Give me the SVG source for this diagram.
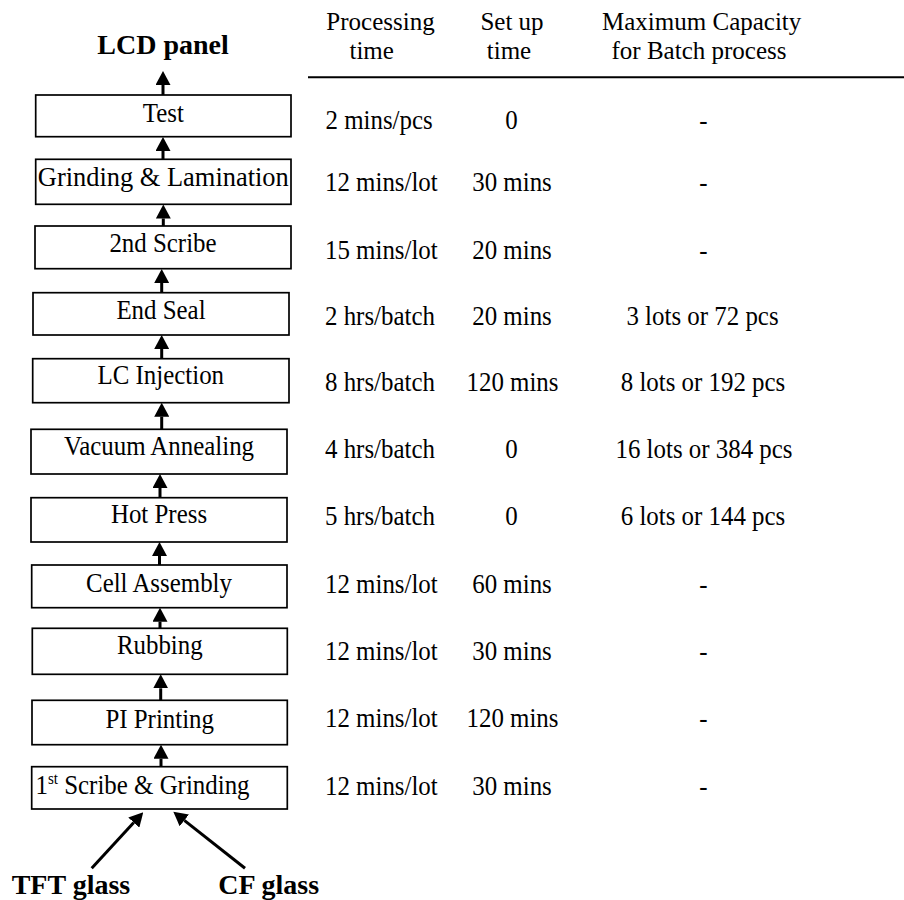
<svg xmlns="http://www.w3.org/2000/svg" width="904" height="900" viewBox="0 0 904 900">
<style>
text{font-family:"Liberation Serif","Times New Roman",serif;font-size:26.5px;fill:#000}
.h{font-size:25px}
.b{font-weight:bold;font-size:28px}
.c{text-anchor:middle}
.box{fill:#fff;stroke:#000;stroke-width:1.7}
.ar{stroke:#000;stroke-width:3;fill:none;marker-end:url(#ah)}
</style>
<defs>
<marker id="ah" markerUnits="userSpaceOnUse" markerWidth="14" markerHeight="15" refX="0" refY="7.5" orient="auto" viewBox="0 0 14 15">
<path d="M0,0 L14,7.5 L0,15 z" fill="#000"/>
</marker>
</defs>
<rect width="904" height="900" fill="#fff"/>
<g id="connectors">
<line class="ar" x1="163" y1="95" x2="163" y2="85"/>
<line class="ar" x1="163" y1="159.3" x2="163" y2="151"/>
<line class="ar" x1="163.3" y1="226" x2="163.3" y2="218.5"/>
<line class="ar" x1="161.7" y1="292.7" x2="161.7" y2="283"/>
<line class="ar" x1="161.7" y1="358.7" x2="161.7" y2="349"/>
<line class="ar" x1="161.7" y1="429.3" x2="161.7" y2="416.7"/>
<line class="ar" x1="160" y1="497.7" x2="160" y2="488"/>
<line class="ar" x1="159.5" y1="565" x2="159.5" y2="556"/>
<line class="ar" x1="160" y1="628.3" x2="160" y2="621.7"/>
<line class="ar" x1="160.7" y1="700.3" x2="160.7" y2="688.3"/>
<line class="ar" x1="161" y1="766.7" x2="161" y2="758.7"/>
<line class="ar" x1="91.7" y1="868.3" x2="133.8" y2="822.6"/>
<line class="ar" x1="245" y1="868.3" x2="184.3" y2="820.4"/>
</g>
<g id="lcd-panel"><text class="b c" x="163" y="54">LCD panel</text></g>
<g id="test"><rect class="box" x="35.7" y="95" width="255.3" height="41.7"/><text class="c" transform="translate(163.3,122) scale(0.94,1)">Test</text></g>
<g id="grinding-lamination"><rect class="box" x="35.7" y="159.3" width="255.3" height="45"/><text class="c" x="163.3" y="185.5" textLength="251" lengthAdjust="spacingAndGlyphs">Grinding &amp; Lamination</text></g>
<g id="second-scribe"><rect class="box" x="35" y="226" width="256" height="42.7"/><text class="c" transform="translate(163,252) scale(0.94,1)">2nd Scribe</text></g>
<g id="end-seal"><rect class="box" x="33" y="292.7" width="256" height="42.3"/><text class="c" transform="translate(161,318.5) scale(0.94,1)">End Seal</text></g>
<g id="lc-injection"><rect class="box" x="32.7" y="358.7" width="256.3" height="44"/><text class="c" transform="translate(160.8,384.3) scale(0.94,1)">LC Injection</text></g>
<g id="vacuum-annealing"><rect class="box" x="31" y="429.3" width="256" height="44.7"/><text class="c" transform="translate(159,455.3) scale(0.94,1)">Vacuum Annealing</text></g>
<g id="hot-press"><rect class="box" x="31" y="497.7" width="256" height="44.3"/><text class="c" transform="translate(159,523) scale(0.94,1)">Hot Press</text></g>
<g id="cell-assembly"><rect class="box" x="31.7" y="565" width="255.3" height="42.7"/><text class="c" transform="translate(159,592) scale(0.94,1)">Cell Assembly</text></g>
<g id="rubbing"><rect class="box" x="32.3" y="628.3" width="255" height="46"/><text class="c" transform="translate(159.8,653.6) scale(0.94,1)">Rubbing</text></g>
<g id="pi-printing"><rect class="box" x="32" y="700.3" width="255.3" height="44.4"/><text class="c" transform="translate(159.7,727.6) scale(0.94,1)">PI Printing</text></g>
<g id="first-scribe-grinding"><rect class="box" x="31.7" y="766.7" width="255.6" height="42.3"/><text transform="translate(35.5,794.3) scale(0.94,1)">1<tspan font-size="16" dy="-10">st</tspan><tspan dy="10"> Scribe &amp; Grinding</tspan></text></g>
<g id="tft-glass"><text class="b" x="11.7" y="894">TFT glass</text></g>
<g id="cf-glass"><text class="b" x="218.3" y="894">CF glass</text></g>
<g id="table">
<text class="c h" x="380.5" y="30.3">Processing</text>
<text class="c h" x="371.7" y="58.8">time</text>
<text class="c h" x="512" y="30.3">Set up</text>
<text class="c h" x="509" y="58.8">time</text>
<text class="c h" x="701.7" y="30.3">Maximum Capacity</text>
<text class="c h" x="699" y="58.8">for Batch process</text>
<line x1="308" y1="77.3" x2="904" y2="77.3" stroke="#000" stroke-width="2"/>
<g>
<text transform="translate(325.5,129.3) scale(0.94,1)">2 mins/pcs</text>
<text transform="translate(325,190.7) scale(0.94,1)">12 mins/lot</text>
<text transform="translate(325,259.3) scale(0.94,1)">15 mins/lot</text>
<text transform="translate(325,325) scale(0.94,1)">2 hrs/batch</text>
<text transform="translate(325,390.7) scale(0.94,1)">8 hrs/batch</text>
<text transform="translate(325,458.3) scale(0.94,1)">4 hrs/batch</text>
<text transform="translate(325,525) scale(0.94,1)">5 hrs/batch</text>
<text transform="translate(325,593.3) scale(0.94,1)">12 mins/lot</text>
<text transform="translate(325,660) scale(0.94,1)">12 mins/lot</text>
<text transform="translate(325,727.3) scale(0.94,1)">12 mins/lot</text>
<text transform="translate(325,795) scale(0.94,1)">12 mins/lot</text>
</g>
<g>
<text class="c" transform="translate(511.5,129.3) scale(0.94,1)">0</text>
<text class="c" transform="translate(512,190.7) scale(0.94,1)">30 mins</text>
<text class="c" transform="translate(512,259.3) scale(0.94,1)">20 mins</text>
<text class="c" transform="translate(512,325) scale(0.94,1)">20 mins</text>
<text class="c" transform="translate(512.5,390.7) scale(0.94,1)">120 mins</text>
<text class="c" transform="translate(511.5,458.3) scale(0.94,1)">0</text>
<text class="c" transform="translate(511.5,525) scale(0.94,1)">0</text>
<text class="c" transform="translate(512,593.3) scale(0.94,1)">60 mins</text>
<text class="c" transform="translate(512,660) scale(0.94,1)">30 mins</text>
<text class="c" transform="translate(512.5,727.3) scale(0.94,1)">120 mins</text>
<text class="c" transform="translate(512,795) scale(0.94,1)">30 mins</text>
</g>
<g>
<text class="c" transform="translate(703.3,129.3) scale(0.94,1)">-</text>
<text class="c" transform="translate(703.3,190.7) scale(0.94,1)">-</text>
<text class="c" transform="translate(703.3,259.3) scale(0.94,1)">-</text>
<text class="c" transform="translate(702.5,325) scale(0.94,1)">3 lots or 72 pcs</text>
<text class="c" transform="translate(703,390.7) scale(0.94,1)">8 lots or 192 pcs</text>
<text class="c" transform="translate(704,458.3) scale(0.94,1)">16 lots or 384 pcs</text>
<text class="c" transform="translate(703,525) scale(0.94,1)">6 lots or 144 pcs</text>
<text class="c" transform="translate(703.3,593.3) scale(0.94,1)">-</text>
<text class="c" transform="translate(703.3,660) scale(0.94,1)">-</text>
<text class="c" transform="translate(703.3,727.3) scale(0.94,1)">-</text>
<text class="c" transform="translate(703.3,795) scale(0.94,1)">-</text>
</g>
</g>
</svg>
